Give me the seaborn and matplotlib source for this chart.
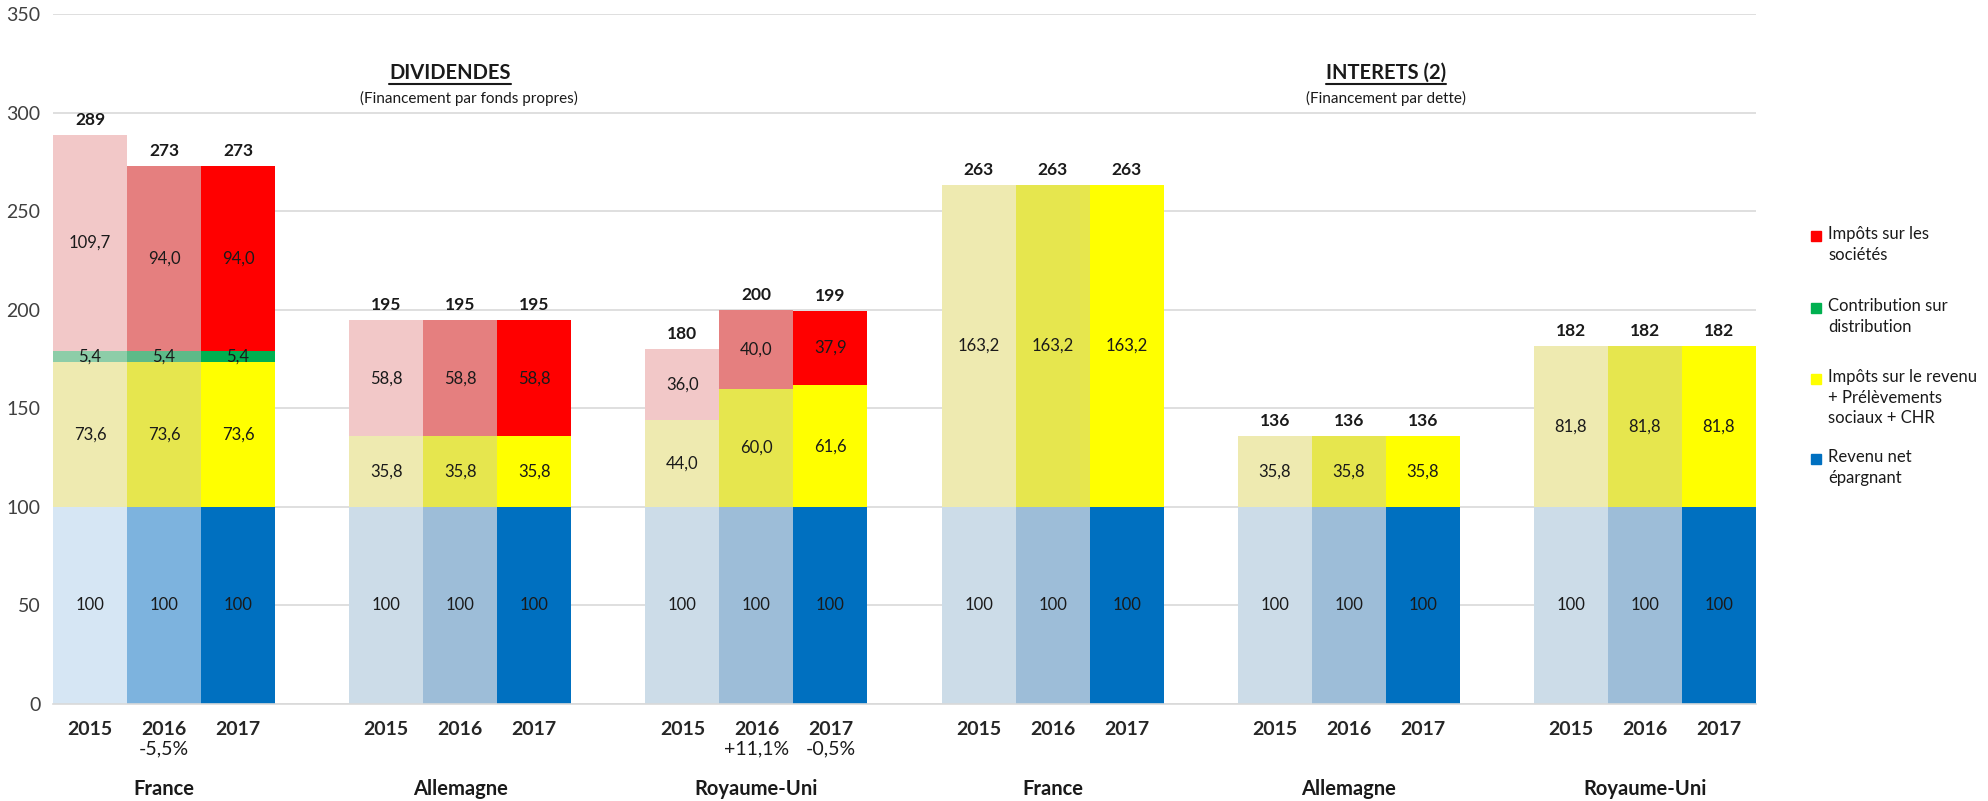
import numpy as np
import pandas as pd
import matplotlib
matplotlib.use("Agg")
import matplotlib.pyplot as plt
from matplotlib.patches import Rectangle
from matplotlib.lines import Line2D
import seaborn as sns

# ---------------- data ----------------
countries = ["France", "Allemagne", "Royaume-Uni", "France", "Allemagne", "Royaume-Uni"]
years = ["2015", "2016", "2017"]
revenu_net = [100, 100, 100, 100, 100, 100, 100, 100, 100,
              100, 100, 100, 100, 100, 100, 100, 100, 100]
impots_revenu = [73.6, 73.6, 73.6, 35.8, 35.8, 35.8, 44.0, 60.0, 61.6,
                 163.2, 163.2, 163.2, 35.8, 35.8, 35.8, 81.8, 81.8, 81.8]
contribution = [5.4, 5.4, 5.4, 0, 0, 0, 0, 0, 0,
                0, 0, 0, 0, 0, 0, 0, 0, 0]
impots_societes = [109.7, 94.0, 94.0, 58.8, 58.8, 58.8, 36.0, 40.0, 37.9,
                   0, 0, 0, 0, 0, 0, 0, 0, 0]
totals = ["289", "273", "273", "195", "195", "195", "180", "200", "199",
          "263", "263", "263", "136", "136", "136", "182", "182", "182"]
variations = ["", "-5,5%", "", "", "", "", "", "+11,1%", "-0,5%",
              "", "", "", "", "", "", "", "", ""]
legend_labels = ["Impôts sur les\nsociétés", "Contribution sur\ndistribution",
                 "Impôts sur le revenu\n+ Prélèvements\nsociaux + CHR",
                 "Revenu net\népargnant"]

# colours (2015, 2016, 2017 shades)
blue_fr = ["#D6E6F4", "#7DB3DE", "#0070C0"]
blue_ot = ["#CCDCE8", "#9DBDD8", "#0070C0"]
yellow = ["#EEEAB0", "#E6E64E", "#FFFF00"]
green = ["#8DCDA8", "#5DBA88", "#00B050"]
red = ["#F2C8C8", "#E57F7F", "#FF0000"]

# ---------------- build frame ----------------
n_groups = len(countries)
positions = [g * 4 + k for g in range(n_groups) for k in range(3)]
all_slots = [str(i) for i in range(positions[-1] + 1)]
df = pd.DataFrame({
    "slot": [str(p) for p in positions],
    "year": years * n_groups,
    "blue": revenu_net,
    "yellow": impots_revenu,
    "green": contribution,
    "red": impots_societes,
})
df["top_blue"] = df["blue"]
df["top_yellow"] = df["top_blue"] + df["yellow"]
df["top_green"] = df["top_yellow"] + df["green"]
df["top_red"] = df["top_green"] + df["red"]

def pal(shades, first_group=None):
    d = {}
    for i, s in enumerate(df["slot"]):
        yi = i % 3
        g = i // 3
        if first_group is not None and g == 0:
            d[s] = first_group[yi]
        else:
            d[s] = shades[yi]
    return d

sns.set_style("white")
plt.rcParams["font.family"] = ["Lato", "DejaVu Sans"]

W, H = 1988, 801
fig = plt.figure(figsize=(W / 100, H / 100), dpi=100)
ax = fig.add_axes([53 / W, 1 - 704 / H, (1756 - 53) / W, (704 - 14) / H])

layers = [("top_red", "red", red, None),
          ("top_green", "green", green, None),
          ("top_yellow", "yellow", yellow, None),
          ("top_blue", "blue", blue_ot, blue_fr)]
for top_col, seg_col, shades, first in layers:
    sub = df[df[seg_col] > 0]
    sns.barplot(data=sub, x="slot", y=top_col, hue="slot", order=all_slots,
                palette=pal(shades, first), width=1.0, saturation=1,
                linewidth=0, legend=False, ax=ax, zorder=2)

ax.set_xlim(-0.5, len(all_slots) - 0.5)
ax.set_ylim(0, 350)
ax.set_yticks(np.arange(0, 351, 50))
ax.yaxis.grid(True, color="#D9D9D9", lw=1.2, zorder=0)
ax.set_axisbelow(True)
for s in ["top", "right", "left"]:
    ax.spines[s].set_visible(False)
ax.spines["bottom"].set_color("#D9D9D9")
ax.spines["bottom"].set_linewidth(1.2)
ax.tick_params(axis="y", length=0, labelsize=14, labelcolor="#404040", pad=9)
ax.set_xticks(positions, labels=years * n_groups)
ax.tick_params(axis="x", length=0, labelsize=14, pad=12)
for t in ax.get_xticklabels():
    t.set_fontweight("bold")
ax.set_xlabel("")
ax.set_ylabel("")

def fmt(v):
    return f"{v:.1f}".replace(".", ",")

txtc = "#1a1a1a"
for i, row in df.iterrows():
    x = positions[i]
    ax.text(x, row["blue"] / 2, "100", ha="center", va="center", fontsize=12, color=txtc, zorder=5)
    if row["yellow"] > 0:
        ax.text(x, row["top_blue"] + row["yellow"] / 2, fmt(row["yellow"]),
                ha="center", va="center", fontsize=12, color=txtc, zorder=5)
    if row["green"] > 0:
        ax.text(x, row["top_yellow"] + row["green"] / 2, fmt(row["green"]),
                ha="center", va="center", fontsize=12, color=txtc, zorder=5)
    if row["red"] > 0:
        ax.text(x, row["top_green"] + row["red"] / 2, fmt(row["red"]),
                ha="center", va="center", fontsize=12, color=txtc, zorder=5)
    ax.annotate(totals[i], xy=(x, row["top_red"]), xytext=(0, 15),
                textcoords="offset pixels", ha="center", va="center",
                fontsize=12.5, fontweight="bold", color=txtc)
    if variations[i]:
        ax.annotate(variations[i], xy=(x, 0), xycoords=("data", "axes fraction"),
                    xytext=(0, -45), textcoords="offset pixels", ha="center",
                    va="center", fontsize=14, color=txtc)

for g, c in enumerate(countries):
    ax.annotate(c, xy=(g * 4 + 1, 0), xycoords=("data", "axes fraction"),
                xytext=(0, -85), textcoords="offset pixels", ha="center",
                va="center", fontsize=14.5, fontweight="bold", color=txtc)

# section titles
t1 = ax.text(4.86, 320, "DIVIDENDES", ha="center", va="center", fontsize=14.5,
             fontweight="bold", color=txtc)
ax.text(5.12, 307, "(Financement par fonds propres)", ha="center", va="center",
        fontsize=11, color=txtc)
t2 = ax.text(17.5, 320, "INTERETS (2)", ha="center", va="center", fontsize=14.5,
             fontweight="bold", color=txtc)
ax.text(17.5, 307, "(Financement par dette)", ha="center", va="center",
        fontsize=11, color=txtc)

fig.canvas.draw()
r = fig.canvas.get_renderer()
for t in (t1, t2):
    bb = t.get_window_extent(r)
    y = (bb.y0 - 1) / H
    fig.add_artist(Line2D([bb.x0 / W, bb.x1 / W], [y, y], color=txtc, lw=1.5))

# legend (manual, marker aligned with first line)
leg_colors = ["#FF0000", "#00B050", "#FFFF00", "#0070C0"]
leg_y = [236, 308, 379, 459]
for lab, col, yy in zip(legend_labels, leg_colors, leg_y):
    sq = 10
    fig.add_artist(Rectangle(((1816 - sq / 2) / W, 1 - (yy + sq / 2) / H), sq / W, sq / H,
                             transform=fig.transFigure, color=col))
    fig.text(1828 / W, 1 - (yy - 10) / H, lab, ha="left", va="top", fontsize=12,
             color=txtc, linespacing=1.35)

fig.savefig("out.png", dpi=100)
